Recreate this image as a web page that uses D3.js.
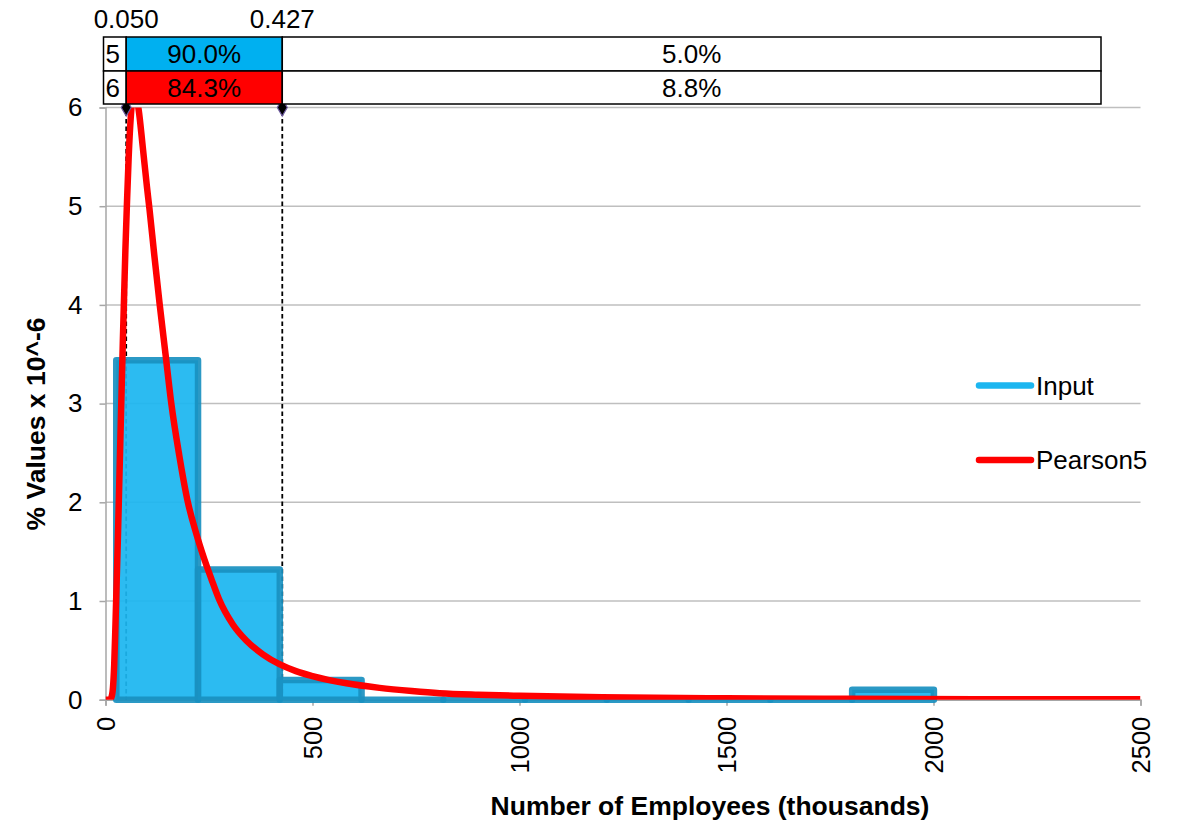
<!DOCTYPE html>
<html><head><meta charset="utf-8">
<script src="https://cdn.jsdelivr.net/npm/d3@7"></script>
<style>
html,body{margin:0;padding:0;background:#fff;}
svg{display:block;font-family:"Liberation Sans",Arial,sans-serif;}
</style></head>
<body><svg id="c" width="1179" height="826"></svg>
<script>
// ---- data ----
const binStarts = [26, 223.5, 421, 618.5, 816, 1013.5, 1211, 1408.5, 1606, 1803.5];
const binWidth = 197.5;
const inputDensity = [3.44, 1.32, 0.20, 0, 0, 0, 0, 0, 0, 0.10];
const pearsonX = [0,10,14,18,21,24,27,30,33,36,39,42,45,48,52,56,61,67,73,80,90,100,106,118,131,145,159,178,199,218,239,256,274,308,340,380,420,460,500,582,662,740,807,900,1000,1200,1500,1800,2100,2500];
const pearsonY = [0,0,0.02,0.12,0.35,0.75,1.2,1.65,2.15,2.65,3.15,3.65,4.1,4.55,5.05,5.5,5.9,6.12,6.13,5.98,5.6,5.2,4.98,4.5,4.0,3.5,3.0,2.48,2.0,1.7,1.42,1.22,1.02,0.76,0.6,0.46,0.36,0.29,0.24,0.166,0.12,0.088,0.066,0.05,0.039,0.024,0.0135,0.0085,0.0055,0.0033];
const xTicks = [0, 500, 1000, 1500, 2000, 2500];
const yTicks = [0, 1, 2, 3, 4, 5, 6];
const markers = [50, 427];
const markerLabels = ["0.050", "0.427"];
const rowLabels = {input: ["5", "90.0%", "5.0%"], fit: ["6", "84.3%", "8.8%"]};
const seriesNames = ["Input", "Pearson5"];
const xTitle = "Number of Employees (thousands)";
const yTitle = "% Values x 10^-6";

// ---- layout ----
const svg = d3.select("#c");
const L = 105.5, R = 1140.5, T = 107.5, B = 699.7;
const x = d3.scaleLinear().domain([0, 2500]).range([L, R]);
const y = d3.scaleLinear().domain([0, 6]).range([B, T]);
const font = "26px";
const blueFill = "#1cb6f0", blueStroke = "#1990c0", red = "#ff0000";

svg.append("defs").append("clipPath").attr("id", "plot")
  .append("rect").attr("x", L).attr("y", T).attr("width", R - L).attr("height", B - T);

// gridlines
svg.append("g").selectAll("line").data(yTicks.filter(d => d > 0)).join("line")
  .attr("x1", L).attr("x2", R).attr("y1", d => y(d)).attr("y2", d => y(d))
  .attr("stroke", "#bfbfbf").attr("stroke-width", 1.5);

// y axis
const ya = svg.append("g").attr("transform", `translate(${L},0)`)
  .call(d3.axisLeft(y).tickValues(yTicks).tickSize(6).tickPadding(17).tickFormat(d3.format("d")));
ya.select(".domain").attr("stroke", "#a6a6a6").attr("stroke-width", 1.5);
ya.selectAll(".tick line").attr("stroke", "#a6a6a6").attr("stroke-width", 1.5);
ya.selectAll("text").attr("font-size", font).attr("font-family", "Liberation Sans, Arial").attr("fill", "#000");

// x axis
const xa = svg.append("g").attr("transform", `translate(0,${B})`)
  .call(d3.axisBottom(x).tickValues(xTicks).tickSize(6).tickFormat(d3.format("d")));
xa.select(".domain").attr("stroke", "#a6a6a6").attr("stroke-width", 1.5);
xa.selectAll(".tick line").attr("stroke", "#a6a6a6").attr("stroke-width", 1.5);
xa.selectAll("text").attr("font-size", "25.5px").attr("font-family", "Liberation Sans, Arial").attr("fill", "#000")
  .attr("transform", "rotate(-90)").attr("text-anchor", "end")
  .attr("x", -17).attr("y", 0).attr("dy", "0.35em");

// dashed marker lines
svg.append("g").selectAll("line").data(markers).join("line")
  .attr("x1", d => x(d)).attr("x2", d => x(d)).attr("y1", 104).attr("y2", B)
  .attr("stroke", "#000").attr("stroke-width", 1.8).attr("stroke-dasharray", "4.5,3");

// bars
svg.append("g").selectAll("path").data(binStarts).join("path")
  .attr("d", (d, i) => {
    const x0 = x(d), x1 = x(d + binWidth), y0 = y(0), y1 = y(inputDensity[i]);
    return `M${x0},${y0}V${y1}H${x1}V${y0}Z`;
  })
  .attr("fill", blueFill).attr("fill-opacity", 0.93)
  .attr("stroke", blueStroke).attr("stroke-opacity", 0.92)
  .attr("stroke-width", 6.5).attr("stroke-linejoin", "round");

// Pearson5 curve
const pts = pearsonX.map((d, i) => [d, pearsonY[i]]);
svg.append("path").datum(pts).attr("clip-path", "url(#plot)")
  .attr("d", d3.line().x(d => x(d[0])).y(d => y(d[1])).curve(d3.curveMonotoneX))
  .attr("fill", "none").attr("stroke", red).attr("stroke-width", 6.5).attr("stroke-linejoin", "round");

// diamonds
svg.append("g").selectAll("path").data(markers).join("path")
  .attr("transform", d => `translate(${x(d)},${T})`)
  .attr("d", d3.symbol().type(d3.symbolDiamond).size(85))
  .attr("fill", "#000").attr("stroke", "#6e5aa0").attr("stroke-width", 1.2);

// top box
const bx0 = 103.5, bx1 = 1101, ry = [37, 71, 104];
const rows = [rowLabels.input, rowLabels.fit];
const rowColors = ["#00b0f0", red];
const box = svg.append("g");
rows.forEach((r, i) => {
  const y0 = ry[i], y1 = ry[i + 1], cy = (y0 + y1) / 2;
  box.append("rect").attr("x", bx0).attr("y", y0).attr("width", x(markers[0]) - bx0).attr("height", y1 - y0)
    .attr("fill", "#fff").attr("stroke", "#000").attr("stroke-width", 1.5);
  box.append("rect").attr("x", x(markers[0])).attr("y", y0).attr("width", x(markers[1]) - x(markers[0])).attr("height", y1 - y0)
    .attr("fill", rowColors[i]).attr("stroke", "#000").attr("stroke-width", 1.5);
  box.append("rect").attr("x", x(markers[1])).attr("y", y0).attr("width", bx1 - x(markers[1])).attr("height", y1 - y0)
    .attr("fill", "#fff").attr("stroke", "#000").attr("stroke-width", 1.5);
  box.append("text").attr("x", bx0 + 2).attr("y", cy).attr("dy", "0.36em").attr("font-size", font).text(r[0]);
  box.append("text").attr("x", (x(markers[0]) + x(markers[1])) / 2).attr("y", cy).attr("dy", "0.36em")
    .attr("text-anchor", "middle").attr("font-size", font).text(r[1]);
  box.append("text").attr("x", (x(markers[1]) + bx1) / 2).attr("y", cy).attr("dy", "0.36em")
    .attr("text-anchor", "middle").attr("font-size", font).text(r[2]);
});
svg.append("g").selectAll("text").data(markers).join("text")
  .attr("x", d => x(d)).attr("y", 28).attr("text-anchor", "middle").attr("font-size", font)
  .text((d, i) => markerLabels[i]);

// legend
const lg = svg.append("g");
[[blueFill, 385.5], [red, 460]].forEach((c, i) => {
  lg.append("line").attr("x1", 979).attr("x2", 1031).attr("y1", c[1]).attr("y2", c[1])
    .attr("stroke", c[0]).attr("stroke-width", 6.5).attr("stroke-linecap", "round");
  lg.append("text").attr("x", 1036).attr("y", c[1]).attr("dy", "0.36em").attr("font-size", font).text(seriesNames[i]);
});

// titles
svg.append("text").attr("x", 710).attr("y", 815).attr("text-anchor", "middle")
  .attr("font-size", "26.5px").attr("font-weight", "bold").text(xTitle);
svg.append("text").attr("transform", "translate(45,424) rotate(-90)").attr("text-anchor", "middle")
  .attr("font-size", "26.5px").attr("font-weight", "bold").text(yTitle);
</script></body></html>
